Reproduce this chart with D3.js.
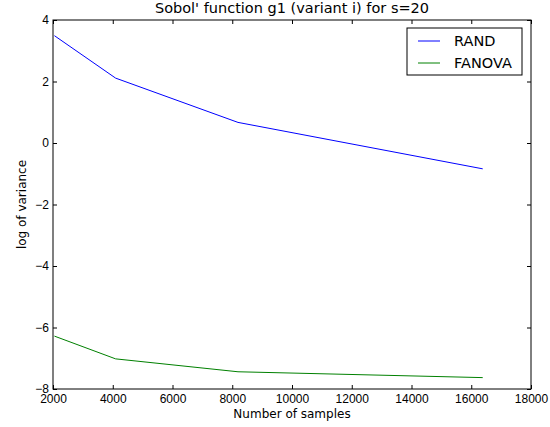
<!DOCTYPE html>
<html>
<head>
<meta charset="utf-8">
<style>
  body { margin: 0; background: #fff; }
  svg { font-family: "DejaVu Sans", sans-serif; }
  .tick text { font-size: 12px; fill: #000; }
</style>
<title>Sobol' function g1 (variant i) for s=20</title>
</head>
<body>
<script src="https://cdn.jsdelivr.net/npm/d3@7"></script>
<script>
  // data
  var samples = [2048, 4096, 8192, 16384];
  var rand = [3.49, 2.11, 0.67, -0.84];
  var fanova = [-6.28, -7.02, -7.44, -7.63];
  var xTicks = [2000, 4000, 6000, 8000, 10000, 12000, 14000, 16000, 18000];
  var yTicks = [-8, -6, -4, -2, 0, 2, 4];
  var seriesNames = ["RAND", "FANOVA"];
  var seriesColors = ["#0000ff", "#008000"];

  var margin = {top: 20, right: 19, bottom: 38, left: 53},
      width = 550 - margin.left - margin.right,
      height = 427 - margin.top - margin.bottom;

  var svg = d3.select("body").append("svg")
      .attr("width", 550)
      .attr("height", 427)
    .append("g")
      .attr("transform", "translate(" + margin.left + "," + margin.top + ")");

  var x = d3.scaleLinear().domain([2000, 18000]).range([0, width]);
  var y = d3.scaleLinear().domain([-8, 4]).range([height, 0]);

  // inward ticks on all four sides, matplotlib classic style
  var fmt = d3.format("d");
  svg.append("g")
      .attr("transform", "translate(0," + height + ")")
      .call(d3.axisBottom(x).tickValues(xTicks).tickFormat(fmt).tickSizeInner(-4).tickSizeOuter(0).tickPadding(5))
      .call(g => g.select(".domain").remove());
  svg.append("g")
      .call(d3.axisTop(x).tickValues(xTicks).tickFormat("").tickSizeInner(-4).tickSizeOuter(0))
      .call(g => g.select(".domain").remove());
  svg.append("g")
      .call(d3.axisLeft(y).tickValues(yTicks).tickFormat(fmt).tickSizeInner(-4).tickSizeOuter(0).tickPadding(4))
      .call(g => g.select(".domain").remove());
  svg.append("g")
      .attr("transform", "translate(" + width + ",0)")
      .call(d3.axisRight(y).tickValues(yTicks).tickFormat("").tickSizeInner(-4).tickSizeOuter(0))
      .call(g => g.select(".domain").remove());

  svg.selectAll(".tick line").attr("stroke", "#000");

  var line = d3.line()
      .x(d => x(d[0]))
      .y(d => y(d[1]));

  [rand, fanova].forEach(function (vals, i) {
    svg.append("path")
        .datum(samples.map((s, j) => [s, vals[j]]))
        .attr("fill", "none")
        .attr("stroke", seriesColors[i])
        .attr("stroke-width", 1)
        .attr("d", line);
  });

  // frame
  svg.append("rect")
      .attr("width", width)
      .attr("height", height)
      .attr("fill", "none")
      .attr("stroke", "#000")
      .attr("stroke-width", 1);

  // legend
  var legend = svg.append("g")
      .attr("transform", "translate(" + (width - 124) + ",8)");
  legend.append("rect")
      .attr("width", 115)
      .attr("height", 47)
      .attr("fill", "#fff")
      .attr("stroke", "#000");
  seriesNames.forEach(function (name, i) {
    legend.append("line")
        .attr("x1", 11).attr("x2", 33)
        .attr("y1", 13 + i * 22).attr("y2", 13 + i * 22)
        .attr("stroke", seriesColors[i]);
    legend.append("text")
        .attr("x", 47)
        .attr("y", 18 + i * 22)
        .style("font-size", "14.5px")
        .text(name);
  });

  // title
  svg.append("text")
      .attr("x", width / 2)
      .attr("y", -7)
      .style("text-anchor", "middle")
      .style("font-size", "14.5px")
      .text("Sobol' function g1 (variant i) for s=20");

  // axis labels
  svg.append("text")
      .attr("x", width / 2)
      .attr("y", height + 29)
      .style("text-anchor", "middle")
      .style("font-size", "12px")
      .text("Number of samples");

  svg.append("text")
      .attr("transform", "rotate(-90)")
      .attr("x", -height / 2)
      .attr("y", -27)
      .style("text-anchor", "middle")
      .style("font-size", "12px")
      .text("log of variance");
</script>
</body>
</html>
